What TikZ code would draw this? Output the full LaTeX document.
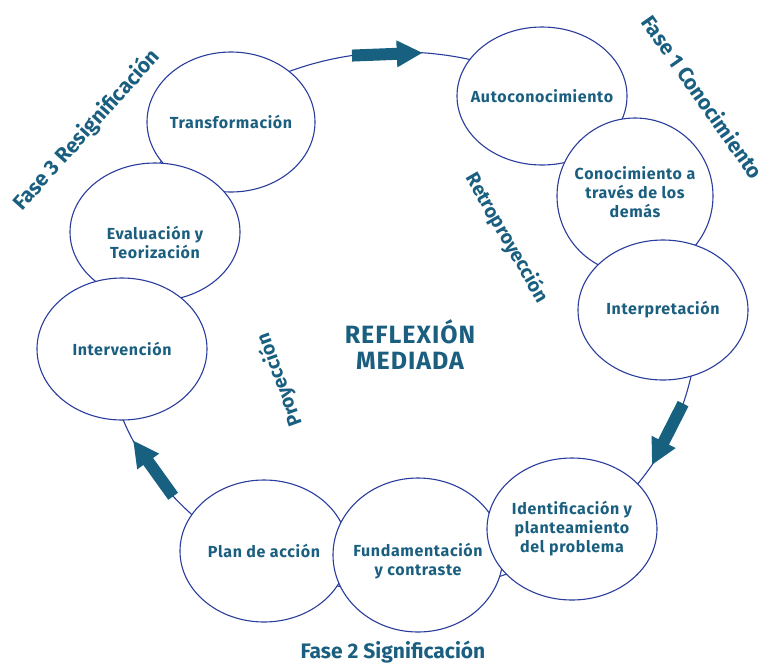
\documentclass[tikz,border=0pt]{standalone}
\usepackage{fontspec}
\setmainfont{Fira Sans}
\usetikzlibrary{shapes.geometric,arrows.meta,calc}
\definecolor{ringblue}{HTML}{2A3D9C}
\definecolor{txtteal}{HTML}{1B5F80}
\definecolor{arrteal}{HTML}{17607F}
\tikzset{
  ell/.style={ellipse, draw=ringblue, line width=1.1pt, fill=white, inner sep=0pt,
    minimum width=170pt, minimum height=140pt},
  lbl/.style={align=center, text=txtteal, inner sep=0pt,
    font=\bfseries\fontsize{16}{19}\selectfont\addfontfeatures{LetterSpace=4}},
  phase/.style={text=txtteal, font=\bfseries\fontsize{21}{24}\selectfont, inner sep=0pt},
  side/.style={text=txtteal, font=\bfseries\fontsize{19.5}{22}\selectfont, inner sep=0pt},
  blockarrow/.style={draw=arrteal, line width=12pt,
    -{Triangle[length=26pt,width=25pt]}}
}
\begin{document}
\begin{tikzpicture}[x=1pt,y=-1pt]
\useasboundingbox (0,0) rectangle (769,665);
\coordinate (O) at (400,322);
\draw[ringblue, line width=1.1pt] (O) ellipse[x radius=297pt, y radius=270pt];
% arrows
\coordinate (t1) at ($(O)+({297*cos(-99.3)},{270*sin(-99.3)})$);
\coordinate (h1) at ($(O)+({297*cos(-85.6)},{270*sin(-85.6)})$);
\coordinate (t2) at ($(O)+({297*cos(17.6)},{270*sin(17.6)})$);
\coordinate (h2) at ($(O)+({297*cos(32)},{270*sin(32)})$);
\coordinate (t3) at ($(O)+({297*cos(139.8)},{270*sin(139.8)})$);
\coordinate (h3) at ($(O)+({297*cos(154)},{270*sin(154)})$);
\draw[blockarrow] (t1) -- (h1);
\draw[blockarrow] (t2) -- (h2);
\draw[blockarrow] (t3) -- (h3);
% ellipses in stacking order, each followed by its label
\node[ell, minimum width=170pt, minimum height=138pt] (auto) at (542,96) {};
\node[lbl] (autoT) at (auto) {Autoconocimiento};
\node[ell, minimum width=156pt, minimum height=156pt] (cono) at (635,196) {};
\node[lbl] (conoT) at ([yshift=4pt]cono.center) {Conocimiento a\\través de los\\demás};
\node[ell, minimum width=170pt, minimum height=140pt] (inter) at (663,310) {};
\node[lbl] (interT) at (inter) {Interpretación};
\node[ell, minimum width=168pt, minimum height=142pt] (plan) at (264,551) {};
\node[lbl] (planT) at (plan) {Plan de acción};
\node[ell, minimum width=170pt, minimum height=154pt] (fund) at (418,555) {};
\node[lbl] (fundT) at ([yshift=-6pt]fund.center) {Fundamentación\\y contraste};
\node[ell, minimum width=170pt, minimum height=142pt] (iden) at (572,529) {};
\node[lbl] (idenT) at (iden) {Identificación y\\planteamiento\\del problema};
\node[ell, minimum width=168pt, minimum height=140pt] (trans) at (231,122) {};
\node[lbl] (transT) at (trans) {Transformación};
\node[ell, minimum width=170pt, minimum height=138pt] (eval) at (155,232) {};
\node[lbl] (evalT) at ([yshift=-10pt]eval.center) {Evaluación y\\Teorización};
\node[ell, minimum width=170pt, minimum height=142pt] (interv) at (122,349) {};
\node[lbl] (intervT) at (interv) {Intervención};
% central text
\node[text=txtteal, align=center, font=\bfseries\fontsize{25}{26}\selectfont\addfontfeatures{LetterSpace=4}] (centre) at (410,345) {REFLEXIÓN\\MEDIADA};
\node[side, rotate=-60] (retro) at (507,238) {Retroproyección};
\node[side, rotate=110] (proy) at (280,380) {Proyección};
% phases
\node[phase, rotate=-55] (f1) at (703,97) {Fase 1 Conocimiento};
\node[phase] (f2) at (393,652) {Fase 2 Significación};
\node[phase, rotate=48] (f3) at (87,130) {Fase 3 Resignificación};
\end{tikzpicture}
\end{document}
